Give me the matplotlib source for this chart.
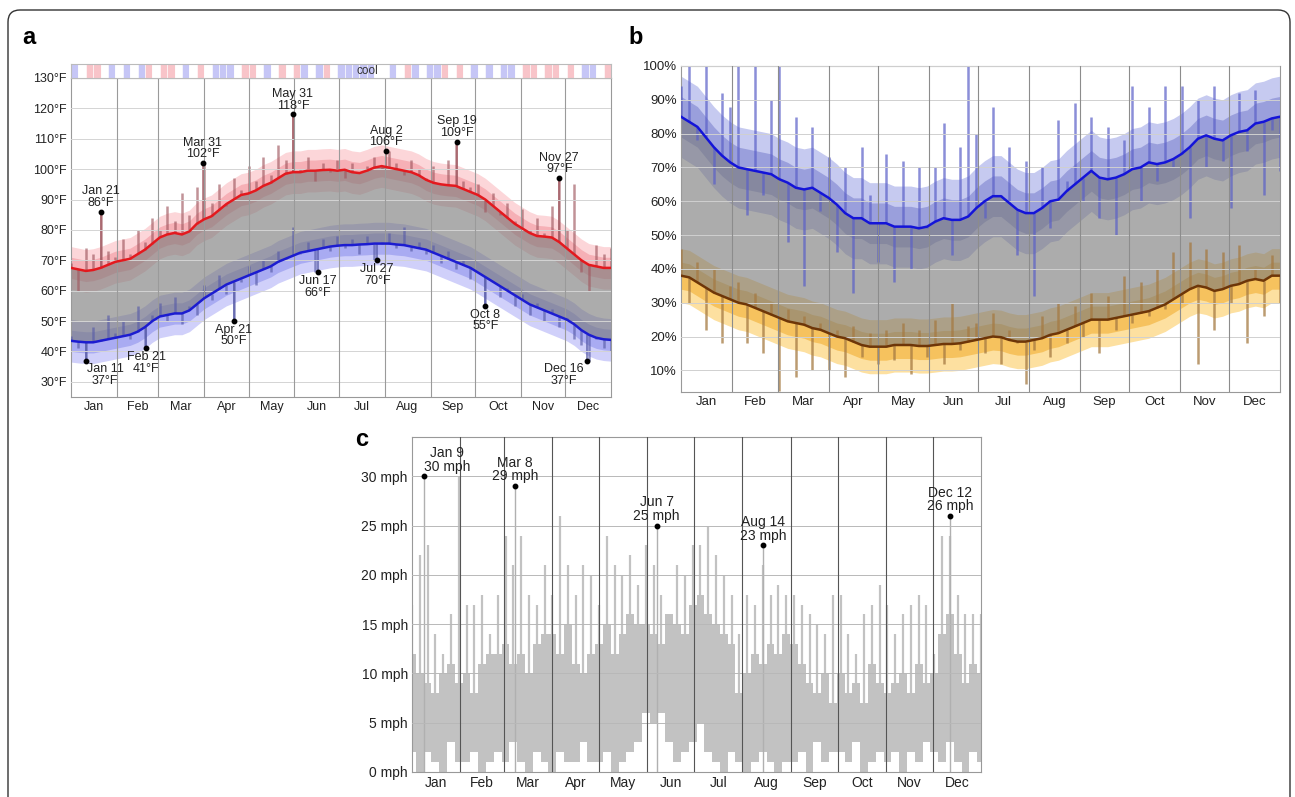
import numpy as np
import matplotlib.pyplot as plt
from matplotlib.patches import FancyBboxPatch

plt.rcParams['font.family'] = ['Liberation Sans', 'DejaVu Sans']
plt.rcParams['text.color'] = '#222222'
plt.rcParams['xtick.color'] = '#222222'
plt.rcParams['ytick.color'] = '#222222'

W, H = 1295, 797

months = ['Jan', 'Feb', 'Mar', 'Apr', 'May', 'Jun', 'Jul', 'Aug', 'Sep', 'Oct', 'Nov', 'Dec']
month_len = [31, 28, 31, 30, 31, 30, 31, 31, 30, 31, 30, 31]
month_start = np.concatenate([[0], np.cumsum(month_len)])
month_mid = (month_start[:-1] + month_start[1:]) / 2

# one sample every 5 days of the year (day 0 .. 365)
days = np.arange(0, 366, 5)

# ---- panel a: temperature (deg F) ----
temp_high_mean = np.array([
    67.5, 67, 66.5, 66.8, 67.5, 68.5, 69.5, 70, 70.5, 72,
    73.5, 75.5, 77.5, 78.5, 79, 78.5, 79.5, 82, 83.5, 84.5,
    86.5, 88.5, 90, 91.5, 92, 93, 94.5, 95.5, 97, 98.5,
    99, 99, 99.5, 99.5, 99.7, 99.8, 99.5, 99.8, 99, 98.7,
    99.5, 100.5, 101, 100.5, 100, 99.5, 99, 98, 96.5, 95.5,
    95, 94.7, 94.5, 93.5, 92.5, 91.5, 90, 88, 86, 84,
    82, 80.5, 79, 78, 77.8, 77.5, 76, 74, 72, 70,
    68.5, 68, 67.5, 67.5])
temp_low_mean = np.array([
    43.5, 43.2, 43, 43, 43.5, 44, 44.5, 45, 45.5, 46.5,
    48, 50, 51.5, 52, 52.5, 52.5, 53.5, 55.5, 57.5, 59,
    60.5, 62, 63, 64, 65, 66, 67, 68, 69.5, 70.5,
    71.5, 72.5, 73, 73.5, 74, 74.5, 74.8, 75, 75, 75.2,
    75.3, 75.5, 75.5, 75.5, 75.2, 75, 74.5, 74, 73.5, 72.5,
    71.5, 70.5, 69.5, 68.5, 67.5, 66, 64.5, 63, 61.5, 60,
    58.5, 57, 55.5, 54.5, 53.5, 52.5, 51.5, 50.5, 49, 47,
    45.5, 44.5, 44, 43.8])
temp_daily_high = np.array([
    69, 60, 74, 72, 86, 73, 71, 77, 72, 80,
    76, 84, 80, 88, 83, 92, 85, 94, 102, 89,
    95, 88, 97, 93, 101, 96, 104, 98, 108, 103,
    118, 100, 104, 96, 102, 99, 103, 97, 102, 99,
    101, 104, 100, 106, 102, 98, 103, 100, 97, 101,
    95, 103, 109, 96, 94, 95, 86, 92, 85, 89,
    83, 87, 80, 84, 79, 88, 97, 80, 95, 66,
    60, 75, 72, 74])
temp_daily_low = np.array([
    45, 41, 37, 48, 44, 52, 46, 50, 44, 55,
    41, 52, 56, 50, 58, 49, 55, 52, 62, 57,
    65, 59, 50, 63, 68, 62, 70, 66, 73, 70,
    81, 72, 76, 66, 77, 73, 78, 74, 77, 72,
    78, 70, 76, 79, 74, 81, 73, 76, 72, 75,
    69, 73, 67, 70, 64, 66, 55, 63, 58, 61,
    55, 59, 52, 56, 50, 54, 48, 51, 44, 42,
    37, 44, 41, 40])
temp_hi_dates = ['Jan 21', 'Mar 31', 'May 31', 'Aug 2', 'Sep 19', 'Nov 27']
temp_hi_values = [86, 102, 118, 106, 109, 97]
temp_lo_dates = ['Jan 11', 'Feb 21', 'Apr 21', 'Jun 17', 'Jul 27', 'Oct 8', 'Dec 16']
temp_lo_values = [37, 41, 50, 66, 70, 55, 37]
# warm / cool strip, one code per 5 days (r = warm, b = cool, w = neutral)
strip_codes = list("bwrrwbwbwb" "rwrrwbwrwb" "bbwrrwbwrw" "rbwbrwbbbb"
                   "bwwbwrbwbb" "rwrwbwbwbb" "wrrwrrwrwb" "bwr")

# ---- panel b: humidity (%) ----
hum_high_mean = np.array([
    85, 83.5, 82, 79, 76, 73.5, 71.5, 70, 69.5, 69,
    68.5, 68, 66.5, 65.5, 64, 63.5, 64, 62.5, 61, 59,
    56.5, 55, 55, 53.5, 53.5, 53.5, 52.5, 52.5, 52.5, 52,
    52.5, 54, 55, 54.5, 54.5, 55.5, 58, 60, 61.5, 61.5,
    59.5, 57.5, 56.5, 56.5, 58, 60, 60.5, 63, 65, 67,
    69, 67, 66.5, 67, 68, 69.5, 70, 71.5, 71, 71.5,
    72.5, 74, 76, 78.5, 79.5, 78.5, 78, 79.5, 80.5, 81,
    83, 83.5, 84.5, 85])
hum_low_mean = np.array([
    38, 37.5, 36, 34.5, 33, 32, 31, 30, 29.5, 28.5,
    27.5, 26.5, 25.5, 24.5, 24, 23.5, 22.5, 22, 21, 20,
    19.5, 18.5, 17.5, 17, 17, 17, 17.5, 17.5, 17.5, 17.2,
    17.2, 17.5, 17.8, 17.8, 18, 18.5, 19, 19.5, 20, 19.8,
    19, 18.5, 18.5, 19, 19.5, 20.5, 21, 22, 23, 24,
    25, 25, 25, 25.5, 26, 26.5, 27, 27.5, 28.5, 29.5,
    31, 32.5, 34, 35, 34.5, 33.5, 34, 35, 35.5, 36.5,
    37, 36.5, 38, 38])
hum_daily_high = np.array([
    94, 100, 78, 100, 65, 92, 88, 100, 56, 100,
    62, 90, 100, 48, 85, 35, 82, 57, 73, 45,
    70, 33, 76, 62, 42, 74, 36, 72, 40, 70,
    52, 70, 83, 44, 76, 100, 80, 55, 88, 62,
    76, 44, 72, 32, 70, 52, 84, 66, 89, 60,
    85, 55, 82, 50, 78, 94, 60, 88, 66, 94,
    70, 94, 55, 90, 70, 94, 72, 58, 92, 75,
    93, 62, 81, 69])
hum_daily_low = np.array([
    46, 30, 42, 22, 40, 18, 35, 36, 18, 33,
    15, 30, 4, 28, 8, 26, 10, 24, 10, 22,
    8, 23, 14, 21, 12, 22, 13, 24, 9, 22,
    14, 25, 12, 30, 16, 23, 24, 15, 27, 12,
    22, 18, 6, 16, 26, 14, 30, 18, 29, 20,
    33, 15, 32, 22, 38, 24, 36, 26, 40, 28,
    45, 30, 48, 12, 46, 22, 45, 30, 47, 18,
    40, 26, 44, 30])

# ---- panel c: wind speed (mph) ----
wind_low = np.array([
    2, 0, 2, 1, 0, 3, 1, 1, 2, 0,
    1, 2, 1, 3, 1, 0, 2, 1, 0, 2,
    1, 1, 3, 1, 1, 2, 0, 1, 2, 3,
    6, 5, 6, 3, 1, 2, 3, 5, 2, 1,
    0, 2, 1, 0, 1, 2, 1, 0, 1, 1,
    2, 0, 3, 1, 2, 2, 1, 3, 0, 1,
    2, 1, 2, 0, 2, 1, 3, 2, 1, 3,
    1, 0, 2, 1])
wind_mid = np.array([
    12, 10, 9, 8, 10, 11, 9, 10, 8, 11,
    12, 12, 13, 11, 12, 10, 13, 14, 14, 12,
    15, 11, 10, 12, 13, 15, 12, 14, 16, 15,
    15, 14, 13, 16, 15, 14, 17, 18, 16, 15,
    14, 13, 8, 10, 12, 11, 13, 12, 14, 13,
    11, 9, 8, 10, 7, 10, 8, 9, 7, 11,
    9, 8, 9, 10, 8, 11, 9, 10, 14, 16,
    12, 9, 11, 10])
wind_peak = np.array([
    17, 22, 23, 14, 12, 16, 30, 17, 17, 18,
    14, 18, 24, 21, 24, 18, 17, 21, 18, 26,
    21, 18, 21, 20, 17, 24, 21, 20, 22, 19,
    23, 21, 18, 16, 21, 20, 23, 23, 25, 22,
    20, 18, 14, 18, 17, 21, 18, 19, 18, 18,
    17, 16, 15, 14, 18, 18, 14, 12, 16, 17,
    19, 17, 14, 16, 17, 18, 17, 12, 24, 24,
    18, 16, 16, 16])
wind_dates = ['Jan 9', 'Mar 8', 'Jun 7', 'Aug 14', 'Dec 12']
wind_values = [30, 29, 25, 23, 26]


def date_to_day(s):
    m, d = s.split()
    return month_start[months.index(m)] + int(d) - 1


def axes_px(x0, y0, x1, y1):
    return fig.add_axes([x0 / W, 1 - y1 / H, (x1 - x0) / W, (y1 - y0) / H])


def style_axes(ax, vline_color, hline_color, ticks, fmt, fs):
    ax.set_xlim(0, 365)
    ax.set_xticks(month_mid)
    ax.set_xticklabels(months, fontsize=fs)
    ax.set_yticks(ticks)
    ax.set_yticklabels([fmt.format(t) for t in ticks], fontsize=fs)
    ax.tick_params(length=0, pad=3)
    for t in ticks:
        ax.axhline(t, color=hline_color, lw=0.7, zorder=4)
    for d in month_start[1:-1]:
        ax.axvline(d, color=vline_color, lw=0.8, zorder=4)
    for sp in ax.spines.values():
        sp.set_color('#999999')
        sp.set_linewidth(0.8)


def annotate_points(ax, dates, values, unit, above, shifts, fs):
    for date, v in zip(dates, values):
        x = date_to_day(date)
        ax.plot(x, v, 'o', color='black', ms=3.2, zorder=8)
        dx = shifts.get(date, 0)
        ax.annotate(f'{date}\n{v}{unit}', (x, v),
                    xytext=(dx, 2 if above else -2), textcoords='offset points',
                    ha='center', va='bottom' if above else 'top',
                    fontsize=fs, linespacing=0.95, zorder=9)


def record_spikes(ax, dates, values, base, color):
    # thin line from the nearest sampled mean up/down to each marked record
    for date, v in zip(dates, values):
        x = date_to_day(date)
        b = base[np.abs(days - x).argmin()]
        ax.vlines(x, b, v, color=color, alpha=0.7, lw=1.4, zorder=3)


fig = plt.figure(figsize=(W / 100, H / 100), dpi=100)

# outer rounded frame
frame = FancyBboxPatch((0.08, -0.3), 12.82, 8.17, boxstyle='round,pad=0,rounding_size=0.12',
                       transform=fig.dpi_scale_trans, fill=False, ec='#333333', lw=1.0)
fig.add_artist(frame)

# ---------------- panel a ----------------
ax = axes_px(71, 78, 611, 397)
ax.fill_between(days, temp_high_mean - 7, temp_high_mean + 7, color='#fcd6d9', lw=0, zorder=1)
ax.fill_between(days, temp_high_mean - 3.5, temp_high_mean + 3.5, color='#f6b0b6', lw=0, zorder=1)
ax.fill_between(days, temp_low_mean - 7, temp_low_mean + 7, color='#d0d0fa', lw=0, zorder=1)
ax.fill_between(days, temp_low_mean - 3.5, temp_low_mean + 3.5, color='#a9abf2', lw=0, zorder=1)
ax.fill_between(days, temp_low_mean, temp_high_mean, color='#7a7a7a', alpha=0.62, lw=0, zorder=2)
ax.vlines(days, temp_high_mean, temp_daily_high, color='#a05860', alpha=0.65, lw=1.8, zorder=3)
ax.vlines(days, temp_low_mean, temp_daily_low, color='#585ca8', alpha=0.65, lw=1.8, zorder=3)
record_spikes(ax, temp_hi_dates, temp_hi_values, temp_high_mean, '#a05860')
record_spikes(ax, temp_lo_dates, temp_lo_values, temp_low_mean, '#585ca8')
ax.plot(days, temp_high_mean, color='#e3191e', lw=1.8, zorder=5)
ax.plot(days, temp_low_mean, color='#1c1cd0', lw=1.8, zorder=5)
ax.set_ylim(25, 130)
style_axes(ax, '#9a9a9a', '#d4d4d4', range(30, 131, 10), '{}°F', 9)
annotate_points(ax, temp_hi_dates, temp_hi_values, '°F', True, {}, 9)
annotate_points(ax, temp_lo_dates, temp_lo_values, '°F', False, {'Jan 11': 14, 'Dec 16': -17}, 9)

axs = axes_px(71, 64, 611, 78)
strip_palette = {'r': '#f8c4c9', 'b': '#c6c6f6', 'w': '#ffffff'}
axs.bar(days[:-1], 1, width=5, align='edge', color=[strip_palette[c] for c in strip_codes],
        edgecolor='white', lw=0.4)
axs.set_xlim(0, 365)
axs.set_ylim(0, 1)
axs.set_xticks([])
axs.set_yticks([])
for sp in axs.spines.values():
    sp.set_color('#bbbbbb')
    sp.set_linewidth(0.8)
axs.text(200, 0.5, 'cool', ha='center', va='center', fontsize=8.5, color='#333333')

# ---------------- panel b ----------------
ax = axes_px(681, 66, 1280, 392)
ax.fill_between(days, hum_high_mean - 12, hum_high_mean + 12, color='#c6caf0', lw=0, zorder=1)
ax.fill_between(days, hum_high_mean - 6, hum_high_mean + 6, color='#9a9fdc', lw=0, zorder=1)
ax.fill_between(days, hum_low_mean - 8, hum_low_mean + 8, color='#fde0a0', lw=0, zorder=1)
ax.fill_between(days, hum_low_mean - 4, hum_low_mean + 4, color='#f6c25e', lw=0, zorder=1)
ax.fill_between(days, hum_low_mean, hum_high_mean, color='#7a7a7a', alpha=0.62, lw=0, zorder=2)
ax.vlines(days, hum_high_mean, hum_daily_high, color='#5a5fc8', alpha=0.7, lw=1.8, zorder=3)
ax.vlines(days, hum_low_mean, hum_daily_low, color='#a57a42', alpha=0.75, lw=1.8, zorder=3)
ax.plot(days, hum_high_mean, color='#1414d8', lw=1.8, zorder=5)
ax.plot(days, hum_low_mean, color='#6e3608', lw=1.8, zorder=5)
ax.set_ylim(3.6, 100)
style_axes(ax, '#8c8c8c', '#d0d0d0', range(10, 101, 10), '{}%', 9.5)

# ---------------- panel c ----------------
ax = axes_px(412, 437, 981, 772)
ax.fill_between(days, wind_low, wind_mid, step='mid', color='#c2c2c2', lw=0, zorder=2)
ax.vlines(days, wind_low, wind_peak, color='#c2c2c2', lw=1.6, zorder=2)
ax.vlines([date_to_day(d) for d in wind_dates], 0, wind_values, color='#b0b0b0', lw=1.0, zorder=2)
ax.set_ylim(0, 34)
style_axes(ax, '#555555', '#b8b8b8', range(0, 31, 5), '{} mph', 10)
annotate_points(ax, wind_dates, wind_values, ' mph', True, {'Jan 9': 16}, 10)

# panel letters
for lab, x, y in [('a', 22, 26), ('b', 628, 26), ('c', 355, 428)]:
    fig.text(x / W, 1 - y / H, lab, fontsize=17, fontweight='bold', color='black', va='top')

fig.savefig('out.png', dpi=100)
